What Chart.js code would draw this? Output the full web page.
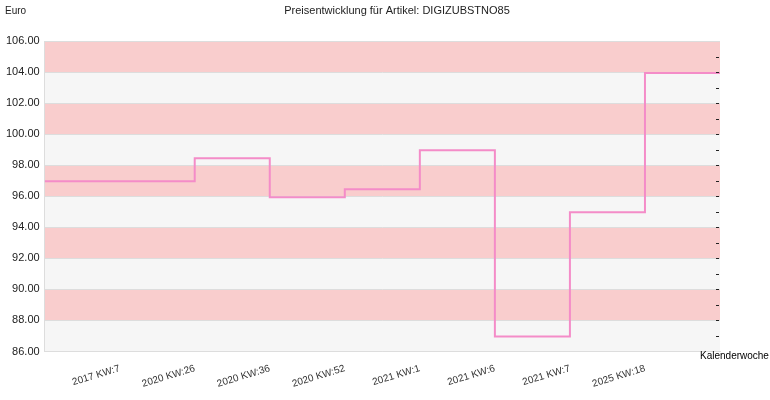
<!DOCTYPE html>
<html>
<head>
<meta charset="utf-8">
<script src="https://cdn.jsdelivr.net/npm/chart.js@4"></script>
<style>
  html, body { margin: 0; padding: 0; background: #fff; }
  #wrap { width: 770px; height: 400px; }
</style>
</head>
<body>
<div id="wrap"><canvas id="chart"></canvas></div>
<script>
// Kalenderwochen (x) und Preise in Euro (y)
const weeks = ['2017 KW:7', '2020 KW:26', '2020 KW:36', '2020 KW:52', '2021 KW:1', '2021 KW:6', '2021 KW:7', '2025 KW:18'];
const prices = [96.97, 98.45, 95.94, 96.45, 98.97, 86.97, 94.97, 103.94];
const yMin = 86, yMax = 106, yStep = 2;

const titleText = 'Preisentwicklung für Artikel: DIGIZUBSTNO85';
const yTitle = 'Euro';
const xTitle = 'Kalenderwoche';

// Treppenlinie: erster und letzter Preis bis an den Rand verlaengert
const points = [{ x: -1, y: prices[0] }];
prices.forEach(function (p, i) { points.push({ x: i, y: p }); });
points.push({ x: weeks.length, y: prices[prices.length - 1] });

// Hintergrundstreifen, Texte und kleine Striche rechts
const decor = {
  id: 'decor',
  beforeDraw(chart) {
    const ctx = chart.ctx, a = chart.chartArea, y = chart.scales.y;
    ctx.save();
    for (let v = yMin, k = 0; v < yMax; v += yStep, k++) {
      const top = y.getPixelForValue(v + yStep), bot = y.getPixelForValue(v);
      ctx.fillStyle = (k % 2 === 0) ? '#f6f6f6' : '#f9cdcd';
      ctx.fillRect(a.left, top, a.right - a.left, bot - top);
    }
    ctx.restore();
  },
  afterDraw(chart) {
    const ctx = chart.ctx, a = chart.chartArea, y = chart.scales.y;
    ctx.save();
    ctx.strokeStyle = '#222';
    ctx.lineWidth = 1;
    for (let v = yMin + 1; v < yMax; v++) {
      const py = Math.round(y.getPixelForValue(v)) + 0.5;
      ctx.beginPath();
      ctx.moveTo(a.right - 4, py);
      ctx.lineTo(a.right - 1, py);
      ctx.stroke();
    }
    ctx.fillStyle = '#222';
    ctx.font = '11px "Liberation Sans", Arial, sans-serif';
    ctx.textBaseline = 'middle';
    ctx.textAlign = 'center';
    ctx.fillText(titleText, 397, 11);
    ctx.font = '10px "Liberation Sans", Arial, sans-serif';
    ctx.textAlign = 'left';
    ctx.fillText(yTitle, 5, 11);
    ctx.fillStyle = '#000';
    ctx.fillText(xTitle, 700, 356);
    ctx.restore();
  }
};

new Chart(document.getElementById('chart'), {
  type: 'line',
  data: {
    datasets: [{
      data: points,
      stepped: true,
      borderColor: '#f48cc8',
      borderWidth: 2,
      pointRadius: 0,
      fill: false
    }]
  },
  options: {
    responsive: true,
    maintainAspectRatio: false,
    animation: false,
    layout: { padding: { left: 1, right: 50, top: 41, bottom: 7 } },
    plugins: { legend: { display: false }, tooltip: { enabled: false } },
    scales: {
      x: {
        type: 'linear',
        min: -1,
        max: weeks.length,
        grid: { display: false },
        border: { color: '#dddddd' },
        ticks: {
          stepSize: 1,
          autoSkip: false,
          minRotation: 17,
          maxRotation: 17,
          color: '#333',
          font: { family: '"Liberation Sans", Arial, sans-serif', size: 10 },
          callback: function (v) { return weeks[v] !== undefined ? weeks[v] : ''; }
        }
      },
      y: {
        min: yMin,
        max: yMax,
        grid: { color: '#dddddd', drawTicks: false },
        border: { color: '#dddddd' },
        ticks: {
          stepSize: yStep,
          padding: 5,
          color: '#222',
          font: { family: '"Liberation Sans", Arial, sans-serif', size: 11 },
          callback: function (v) { return Number(v).toFixed(2); }
        }
      }
    }
  },
  plugins: [decor]
});
</script>
</body>
</html>
